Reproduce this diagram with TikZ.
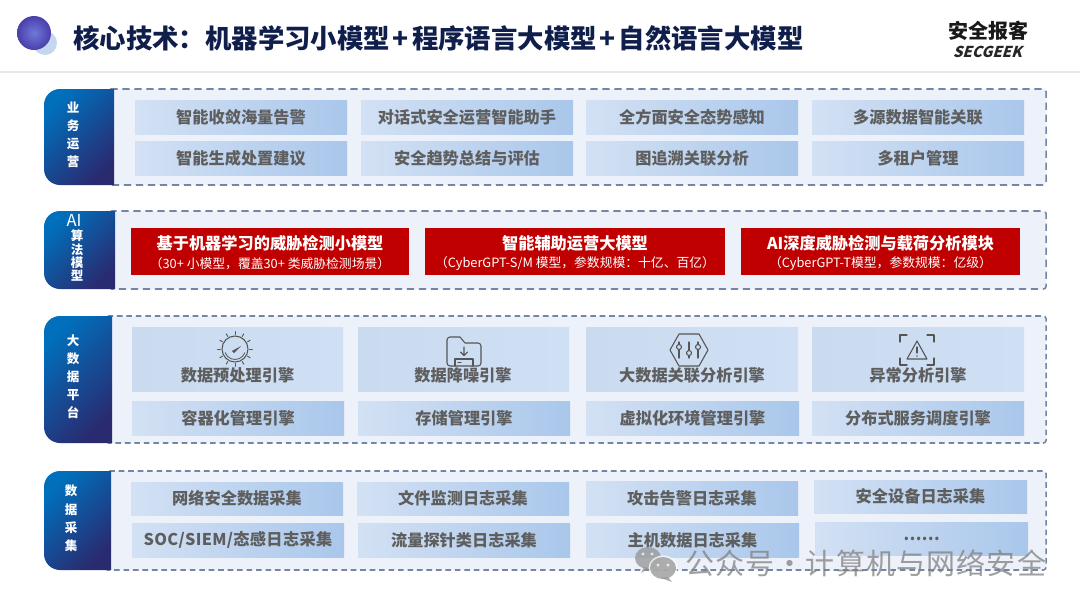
\documentclass[tikz,border=0pt]{standalone}
\usepackage{fontspec}
\setmainfont{Noto Sans CJK SC}
\usetikzlibrary{calc}
\definecolor{panelfill}{HTML}{EDF1F9}
\definecolor{panelline}{HTML}{7386A6}
\definecolor{cellL}{HTML}{D3E1F4}
\definecolor{cellR}{HTML}{A9C7EB}
\definecolor{engA}{HTML}{CADBF0}
\definecolor{engB}{HTML}{CFDFF4}
\definecolor{celltext}{HTML}{5E5E5E}
\definecolor{labA}{HTML}{0070BC}
\definecolor{labB}{HTML}{2A2A70}
\definecolor{redbox}{HTML}{C00000}
\definecolor{titlecol}{HTML}{101E4C}
\definecolor{icon}{HTML}{555555}
\definecolor{ballA}{HTML}{6F78DC}
\definecolor{ballB}{HTML}{4A3FA8}
\definecolor{ballC}{HTML}{C5D6F0}
\newcommand{\fpx}[1]{\fontsize{\dimexpr #1pt*3/4\relax}{\dimexpr #1pt*9/10\relax}\selectfont}
\newcommand{\tplus}{\kern2.2pt+\kern2.2pt}
\tikzset{
  x=0.75pt,y=-0.75pt,
  panelbox/.style={fill=panelfill,draw=panelline,line width=1.15pt,rounded corners=2pt},
  widedash/.style={dash pattern=on 5.4pt off 3.6pt},
  narrowdash/.style={dash pattern=on 4.2pt off 2.9pt},
  labelshade/.style={left color=labA,right color=labB,shading angle=45},
  celltxt/.style={inner sep=0,text=celltext,font=\bfseries\fpx{16.2}},
  labeltxt/.style={inner sep=0,text=white,font=\bfseries\fpx{12.5}},
  redmain/.style={inner sep=0,text=white,font=\bfseries\fpx{16.2}},
  redsub/.style={inner sep=0,text=white,font=\fpx{12.8}},
  iconline/.style={draw=icon,line width=0.8pt,line join=round,line cap=round},
}
\newcommand{\cell}[6]{%
  \path[left color=cellL,right color=cellR] (#2,#3) rectangle (#4,#5);
  \node[celltxt] (#1) at ($(#2,#3)!.5!(#4,#5)$) {#6};}
\newcommand{\engine}[7]{%
  \path[left color=engA,right color=engB] (#2,#3) rectangle (#4,#5);
  \node[celltxt] (#1) at (#6,375) {#7};}
\newcommand{\redcell}[7]{%
  \fill[redbox] (#2,#3) rectangle (#4,#5);
  \node[redmain] (#1a) at ($(#2,#3)!.5!(#4,#3)+(0,15)$) {#6};
  \node[redsub] (#1b) at ($(#2,#3)!.5!(#4,#3)+(0,36)$) {#7};}
\newcommand{\band}[5]{%
  \draw[panelbox,#5] (#2-6,#3) rectangle (1046,#4);
  \path[labelshade] (#2,#3) -- (#2,#4) -- (60,#4) arc[start angle=90,end angle=180,radius=16] -- (44,#3+16) arc[start angle=180,end angle=270,radius=16] -- cycle;}
\begin{document}
\begin{tikzpicture}
\useasboundingbox (0,0) rectangle (1080,607);
\fill[white] (0,0) rectangle (1080,607);
% header
\fill[ballC] (45,43) circle[radius=12];
\shade[inner color=ballA,outer color=ballB] (34,33) circle[radius=17];
\node[inner sep=0,anchor=west,text=titlecol,font=\bfseries\fpx{26.4}] (title) at (73,38) {核心技术^^^^ff1a机器学习小模型\tplus 程序语言大模型\tplus 自然语言大模型};
\fill[black!9] (0,70.5) rectangle (1080,72.5);
\node[inner sep=0,font=\bfseries\fpx{20},text=black!90] (logoa) at (988,31) {安全报客};
\node[inner sep=0,font=\bfseries\fpx{15},text=black!85,xslant=0.3,transform shape] (logob) at (989,52) {SECGEEK};
% band 1
\band{b1}{114}{89}{185}{widedash}
\node[labeltxt] (l1a) at (73,108) {业};
\node[labeltxt] (l1b) at (73,126) {务};
\node[labeltxt] (l1c) at (73,144) {运};
\node[labeltxt] (l1d) at (73,162) {营};
\cell{c11}{135}{100}{347}{134}{智能收敛海量告警}
\cell{c12}{361}{100}{573}{134}{对话式安全运营智能助手}
\cell{c13}{586}{100}{798}{134}{全方面安全态势感知}
\cell{c14}{812}{100}{1024}{134}{多源数据智能关联}
\cell{c15}{135}{141}{347}{175}{智能生成处置建议}
\cell{c16}{361}{141}{573}{175}{安全趋势总结与评估}
\cell{c17}{586}{141}{798}{175}{图追溯关联分析}
\cell{c18}{812}{141}{1024}{175}{多租户管理}
% band 2
\band{b2}{115}{211}{289}{widedash}
\node[inner sep=0,text=white,font=\fpx{16.5}] (l2a) at (74,220) {AI};
\node[labeltxt] (l2b) at (77,236) {算};
\node[labeltxt] (l2c) at (77,250) {法};
\node[labeltxt] (l2d) at (77,263) {模};
\node[labeltxt] (l2e) at (77,276) {型};
\redcell{r1}{131}{228}{409}{275}{基于机器学习的威胁检测小模型}{^^^^ff0830+ 小模型^^^^ff0c覆盖30+ 类威胁检测场景^^^^ff09}
\redcell{r2}{425}{228}{725}{275}{智能辅助运营大模型}{^^^^ff08CyberGPT-S/M 模型^^^^ff0c参数规模^^^^ff1a十亿、百亿^^^^ff09}
\redcell{r3}{741}{228}{1020}{275}{AI深度威胁检测与载荷分析模块}{^^^^ff08CyberGPT-T模型^^^^ff0c参数规模^^^^ff1a亿级^^^^ff09}
% band 3
\band{b3}{112}{316}{443}{narrowdash}
\node[labeltxt] (l3a) at (73,341) {大};
\node[labeltxt] (l3b) at (73,359) {数};
\node[labeltxt] (l3c) at (73,377) {据};
\node[labeltxt] (l3d) at (73,395) {平};
\node[labeltxt] (l3e) at (73,413) {台};
\engine{e1}{132}{327}{343}{391}{237.5}{数据预处理引擎}
\engine{e2}{358}{327}{569}{391}{463}{数据降噪引擎}
\engine{e3}{586}{327}{798}{391}{692}{大数据关联分析引擎}
\engine{e4}{812}{327}{1024}{391}{918}{异常分析引擎}
\cell{c31}{132}{401}{344}{435}{容器化管理引擎}
\cell{c32}{358}{401}{570}{435}{存储管理引擎}
\cell{c33}{586}{401}{799}{435}{虚拟化环境管理引擎}
\cell{c34}{812}{401}{1024}{435}{分布式服务调度引擎}
% gauge icon
\draw[iconline] (235,349) circle[radius=13];
\draw[iconline,line width=0.6pt] (235,349) ++(20:10.5) arc[start angle=20,end angle=160,radius=10.5];
\foreach \a in {0,30,...,330}{\draw[iconline,line width=0.7pt] ($(235,349)+(\a:14.5)$) -- ($(235,349)+(\a:17.5)$);}
\fill[icon] (232,351) -- (241,346) -- (234,353) -- cycle;
% folder icon
\draw[iconline] (447,340) arc[start angle=180,end angle=270,radius=3] -- (460,337) -- (465,343) -- (478,343) arc[start angle=270,end angle=360,radius=3] -- (481,363) arc[start angle=0,end angle=90,radius=3] -- (450,366) arc[start angle=90,end angle=180,radius=3] -- cycle;
\draw[iconline] (455,366) -- (455,359) -- (473,359) -- (473,366);
\draw[iconline] (458,362.5) -- (461,362.5);
\draw[iconline] (464,347) -- (464,355) (460.5,352) -- (464,355.5) -- (467.5,352);
% hexagon icon
\draw[iconline] (670,350) -- (679,334) -- (699,334) -- (708,350) -- (699,366) -- (679,366) -- cycle;
\foreach \xx/\yy in {679/347,689/353,698/347}{
  \draw[iconline] (\xx,342) -- (\xx,\yy-2.5) (\xx,\yy+2.5) -- (\xx,358);
  \draw[iconline] (\xx,\yy) circle[radius=2.5];}
% alert icon
\draw[iconline] (900,342) -- (900,335) -- (907,335) (927,335) -- (934,335) -- (934,342) (900,358) -- (900,365) -- (907,365) (927,365) -- (934,365) -- (934,358);
\draw[iconline] (917,341) -- (927,359) -- (907,359) -- cycle;
\draw[iconline] (917,347) -- (917,353) (917,356) -- (917,356.2);
% band 4
\band{b4}{111}{471}{570}{narrowdash}
\node[labeltxt] (l4a) at (71,491) {数};
\node[labeltxt] (l4b) at (71,510) {据};
\node[labeltxt] (l4c) at (71,528) {采};
\node[labeltxt] (l4d) at (71,546) {集};
\cell{c41}{131}{482}{343}{515}{网络安全数据采集}
\cell{c42}{357}{482}{569}{515}{文件监测日志采集}
\cell{c43}{586}{481}{798}{515}{攻击告警日志采集}
\cell{c44}{814}{480}{1027}{513}{安全设备日志采集}
\cell{c45}{132}{523}{344}{557}{\addfontfeature{LetterSpace=2}SOC/SIEM/态感日志采集}
\cell{c46}{358}{523}{570}{557}{流量探针类日志采集}
\cell{c47}{586}{523}{799}{557}{主机数据日志采集}
\cell{c48}{815}{522}{1028}{555}{……}
% watermark
\begin{scope}[opacity=.75]
\fill[black!42] (648,558) ellipse[x radius=13,y radius=11];
\fill[black!42] (644,567) -- (641,573) -- (650,568) -- cycle;
\fill[white] (663,568) ellipse[x radius=14.5,y radius=12.5];
\fill[black!42] (663,568) ellipse[x radius=13,y radius=11];
\fill[black!42] (668,577) -- (672,582) -- (661,578) -- cycle;
\fill[white] (643,554) circle[radius=1.7] (652,554) circle[radius=1.7] (658,565) circle[radius=1.7] (668,565) circle[radius=1.7];
\node[inner sep=0,anchor=west,text=black!50,font=\fpx{29}] (wm) at (685,563) {\addfontfeature{LetterSpace=4}公众号·计算机与网络安全};
\end{scope}
\end{tikzpicture}
\end{document}
